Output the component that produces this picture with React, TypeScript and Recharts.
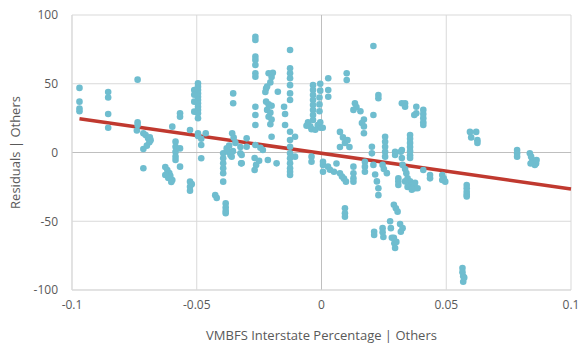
import React from 'react';
import { ScatterChart, Scatter, XAxis, YAxis, CartesianGrid, ReferenceLine, Label } from 'recharts';

const xTicks = [-0.1, -0.05, 0, 0.05, 0.1];
const yTicks = [-100, -50, 0, 50, 100];

// residual points [x, y]
const groupLeft: [number, number][] = [
  [-0.097, 47], [-0.097, 37], [-0.097, 32], [-0.097, 30],
  [-0.0855, 44], [-0.0855, 40], [-0.0855, 28], [-0.0855, 18],
  [-0.0737, 53], [-0.0737, 22], [-0.0737, 20], [-0.074, 16], [-0.0714, 14], [-0.0714, 2.5], [-0.0714, -11.5],
  [-0.0705, 12.7], [-0.0695, 10.3], [-0.069, 7.4], [-0.0688, 11], [-0.0685, 9], [-0.07, 5],
  [-0.0626, -10.5], [-0.0618, -12.7], [-0.061, -15], [-0.0606, -17], [-0.0598, -20], [-0.0626, -16.4], [-0.0614, -18.5], [-0.0602, -21.5],
  [-0.0598, 18.8], [-0.0585, 7.9], [-0.0585, 4.2], [-0.0585, 0.6], [-0.0585, -3], [-0.0585, -5.5], [-0.0567, 3], [-0.0567, -10.3], [-0.0567, 28.5], [-0.0567, 26],
  [-0.0527, -21.2], [-0.0527, -24.9], [-0.0527, -27.8], [-0.0527, 16.4], [-0.052, -23],
  [-0.0495, 50.3], [-0.0495, 47.9], [-0.0495, 45.5], [-0.0495, 43], [-0.0495, 40.6], [-0.0495, 38.2], [-0.0495, 35.8], [-0.0495, 33.3], [-0.0495, 30.9], [-0.0495, 28.5], [-0.0495, 24.9], [-0.0495, 14], [-0.0495, 12],
  [-0.051, 45.5], [-0.051, 37], [-0.051, 29.7], [-0.051, 42], [-0.0482, 5.5], [-0.0482, -4.2], [-0.0482, 10], [-0.0464, 14],
  [-0.0426, -31], [-0.042, -33],
  [-0.0394, -0.6], [-0.0394, -4.2], [-0.0394, -7.9], [-0.0394, -11.5], [-0.0394, -15.1], [-0.0394, -21.2],
  [-0.038, 3], [-0.0375, 0.6], [-0.0365, -1.8], [-0.036, -3], [-0.0384, -37], [-0.0384, -40], [-0.0384, -42.6], [-0.0384, -44.2], [-0.037, 5], [-0.0355, 1],
  [-0.0354, 43], [-0.0354, 35.8], [-0.0358, 14], [-0.0352, 10.8], [-0.0345, 7], [-0.032, -1.8], [-0.032, -7.9], [-0.0325, 4],
];

const groupMid: [number, number][] = [
  [-0.0325, -0.5], [-0.0322, -7.9], [-0.03, 10.3], [-0.03, 4.2],
  [-0.0265, 84.2], [-0.0265, 81.8], [-0.0265, 69.7], [-0.0265, 67.3], [-0.0265, 63.6], [-0.0265, 57.6], [-0.0265, 55.1],
  [-0.0265, 33.3], [-0.0265, 27.3], [-0.0265, 20], [-0.0265, 5.5], [-0.0245, 3.5], [-0.0235, 1.8],
  [-0.0268, -4], [-0.0262, -9], [-0.0268, -12.7], [-0.025, -6],
  [-0.0212, 57.6], [-0.02, 55], [-0.0205, 51], [-0.0218, 48], [-0.0222, 46.5], [-0.0195, 58], [-0.0225, 44],
  [-0.0222, 37], [-0.0212, 35], [-0.02, 34], [-0.0218, 31], [-0.0205, 29], [-0.0212, 26], [-0.02, 24], [-0.0205, 20.5],
  [-0.02, 11.5], [-0.0215, -5.5], [-0.018, -7.9],
  [-0.015, 33.3], [-0.0146, 28], [-0.0146, 20], [-0.0175, 44.2],
  [-0.0126, 74.5], [-0.0126, 61.2], [-0.0126, 57.6], [-0.0126, 54], [-0.0126, 49], [-0.0126, 43], [-0.0126, 38.2],
  [-0.0126, 15.1], [-0.0126, 9.1], [-0.0126, 4.2], [-0.0126, -0.6], [-0.0126, -4.2], [-0.0126, -7.9], [-0.0126, -11.5], [-0.0126, -14], [-0.0126, -16.4],
  [-0.0106, 11.5], [-0.0106, -3],
  [-0.0034, 49], [-0.0034, 45.5], [-0.0034, 41.8], [-0.0034, 38.2], [-0.0034, 34.5], [-0.0034, 30.9], [-0.0034, 27.3], [-0.0034, 23.6],
  [-0.0054, 22], [-0.0045, 19], [-0.0015, 20], [-0.0005, 18], [-0.004, 17], [-0.006, 19.5], [-0.0025, 16.5],
  [-0.004, -3], [-0.004, -6.7], [0.0006, -9], [0.0006, -14],
  [-0.0005, 22], [0.0005, 18], [-0.0008, 30], [-0.0008, 35], [-0.0008, 40], [-0.0005, 45], [-0.0005, 50],
];

const groupRight: [number, number][] = [
  [0.0027, 54], [0.0027, 45.5], [0.0027, 40.6], [0.0101, 57.6], [0.0101, 52.7],
  [0.0006, -6.7], [0.0026, -10.3], [0.0034, -12.5], [0.006, -8], [0.0074, -15.1], [0.0082, -17.5], [0.009, -19], [0.0098, -21.2], [0.005, -14],
  [0.0074, 15], [0.0086, 11], [0.0094, 7], [0.0104, 9], [0.0112, 4], [0.0074, 4],
  [0.0094, -40.6], [0.0094, -44.2], [0.0094, -46.7],
  [0.0128, -10.3], [0.0128, -15.1], [0.0128, -18.8], [0.0128, -21.2],
  [0.0134, 35.8], [0.014, 33], [0.0128, 31], [0.0156, 30], [0.017, 24], [0.0162, 21.5], [0.017, 19], [0.017, 14],
  [0.0174, -6.7], [0.0174, -10.3], [0.0174, -14],
  [0.0208, 77.5], [0.0208, 27.3], [0.0202, 4.2], [0.0202, -0.6],
  [0.0208, -9], [0.0215, -16], [0.0222, -21], [0.0228, -26], [0.0228, -31],
  [0.0228, 41.8], [0.0228, 39.4], [0.0211, -57.6], [0.0211, -60],
  [0.0245, -55], [0.0245, -58], [0.0248, -61.5],
  [0.0255, 11.5], [0.0255, 7.8], [0.0255, 4.2], [0.0255, 0.6], [0.0255, -3],
  [0.0245, -9], [0.025, -12], [0.0262, -15],
  [0.0275, -50], [0.0278, -55], [0.0282, -62], [0.029, -62], [0.0292, -66], [0.0295, -69.5], [0.03, -65],
  [0.029, -38], [0.0298, -40.5], [0.0305, -43], [0.0295, 0.6], [0.0295, -1.8],
  [0.0308, -18.8], [0.0308, -21], [0.0308, -23.6], [0.0322, 35.8], [0.0322, 1.8],
  [0.0315, -52], [0.0325, -55], [0.0318, -57.6],
  [0.0335, 35.8], [0.0335, 33.3], [0.0318, 0.6], [0.0322, -4], [0.0325, -9],
  [0.0355, 12.7], [0.0355, 10], [0.0355, 7], [0.0355, 4], [0.0355, 1], [0.0355, -2], [0.0355, -4],
  [0.0335, -12], [0.034, -15], [0.0345, -18.8], [0.0355, -21], [0.0362, -23.6], [0.037, -25], [0.0375, -26],
  [0.0335, -21], [0.0345, -25], [0.0362, -27], [0.0385, -26], [0.0375, -22],
  [0.038, 33.3], [0.038, 28.5], [0.0372, 27.3],
  [0.0408, 31], [0.0408, 28], [0.0408, 25], [0.0408, 22], [0.0408, 20], [0.0408, -12.7],
  [0.0435, -16.4], [0.0435, -18.8],
  [0.0484, -16.4], [0.049, -18.8], [0.0496, -21.2], [0.0484, -20],
  [0.0582, -23.6], [0.0582, -26], [0.0582, -28.5], [0.0582, -30.5], [0.0582, -32],
  [0.0565, -84], [0.0565, -87], [0.0568, -90], [0.0568, -94], [0.0572, -91],
  [0.0595, 15], [0.06, 11], [0.062, 15], [0.0625, 9], [0.0625, 7],
  [0.0784, 1.8], [0.0784, -0.5], [0.0784, -3],
  [0.0835, -0.6], [0.084, -3], [0.0845, -5.5], [0.085, -7], [0.086, -8], [0.0855, -9], [0.0862, -5.5], [0.0838, -8],
];

// fitted trend line endpoints [x, y]
const trendStart: [number, number] = [-0.097, 24.6];
const trendEnd: [number, number] = [0.1, -26.5];

const points = [...groupLeft, ...groupMid, ...groupRight].map(([x, y]) => ({ x, y }));

const FONT = "'Open Sans', 'Noto Sans', sans-serif";
const TEXT = '#595959';
const GRID = '#d9d9d9';
const ZERO = '#bfbfbf';

const Dot = (props: any) => {
  const { cx, cy } = props;
  if (cx == null || cy == null) return null;
  return <circle cx={cx} cy={cy} r={3.3} fill="#6fbdcf" />;
};

const fmtX = (v: number) => (v === 0 ? '0' : String(v));

export default function App() {
  return (
    <div style={{ position: 'absolute', left: 0, top: 0, width: 580, height: 343, background: '#fff' }}>
      <ScatterChart width={580} height={343} margin={{ top: 15, right: 9, bottom: 0, left: 0 }}>
        <CartesianGrid stroke={GRID} strokeWidth={1} horizontalValues={yTicks} verticalValues={xTicks} />
        <XAxis
          type="number"
          dataKey="x"
          domain={[-0.1, 0.1]}
          ticks={xTicks}
          tickFormatter={fmtX}
          tickLine={false}
          axisLine={{ stroke: GRID }}
          height={53}
          tick={{ fill: TEXT, fontSize: 12, fontFamily: FONT }}
          tickMargin={4}
        >
          <Label
            value="VMBFS Interstate Percentage | Others"
            position="insideBottom"
            offset={3}
            style={{ fill: TEXT, fontSize: 13, fontFamily: FONT }}
          />
        </XAxis>
        <YAxis
          type="number"
          dataKey="y"
          domain={[-100, 100]}
          ticks={yTicks}
          tickLine={false}
          axisLine={{ stroke: GRID }}
          width={72}
          tick={{ fill: TEXT, fontSize: 12, fontFamily: FONT }}
          tickMargin={8}
        >
          <Label
            content={(p: any) => {
              const vb = p.viewBox || {};
              const cy = (vb.y ?? 15) + (vb.height ?? 275) / 2;
              const cx = 15;
              return (
                <text
                  x={cx}
                  y={cy}
                  transform={`rotate(-90, ${cx}, ${cy})`}
                  textAnchor="middle"
                  dominantBaseline="central"
                  style={{ fill: TEXT, fontSize: 13, fontFamily: FONT }}
                >
                  Residuals | Others
                </text>
              );
            }}
          />
        </YAxis>
        <ReferenceLine x={0} stroke={ZERO} strokeWidth={1} />
        <ReferenceLine y={0} stroke={ZERO} strokeWidth={1} />
        <Scatter data={points} shape={<Dot />} isAnimationActive={false} />
        <ReferenceLine
          segment={[{ x: trendStart[0], y: trendStart[1] }, { x: trendEnd[0], y: trendEnd[1] }]}
          stroke="#c0392f"
          strokeWidth={3.5}
          ifOverflow="visible"
        />
      </ScatterChart>
    </div>
  );
}
